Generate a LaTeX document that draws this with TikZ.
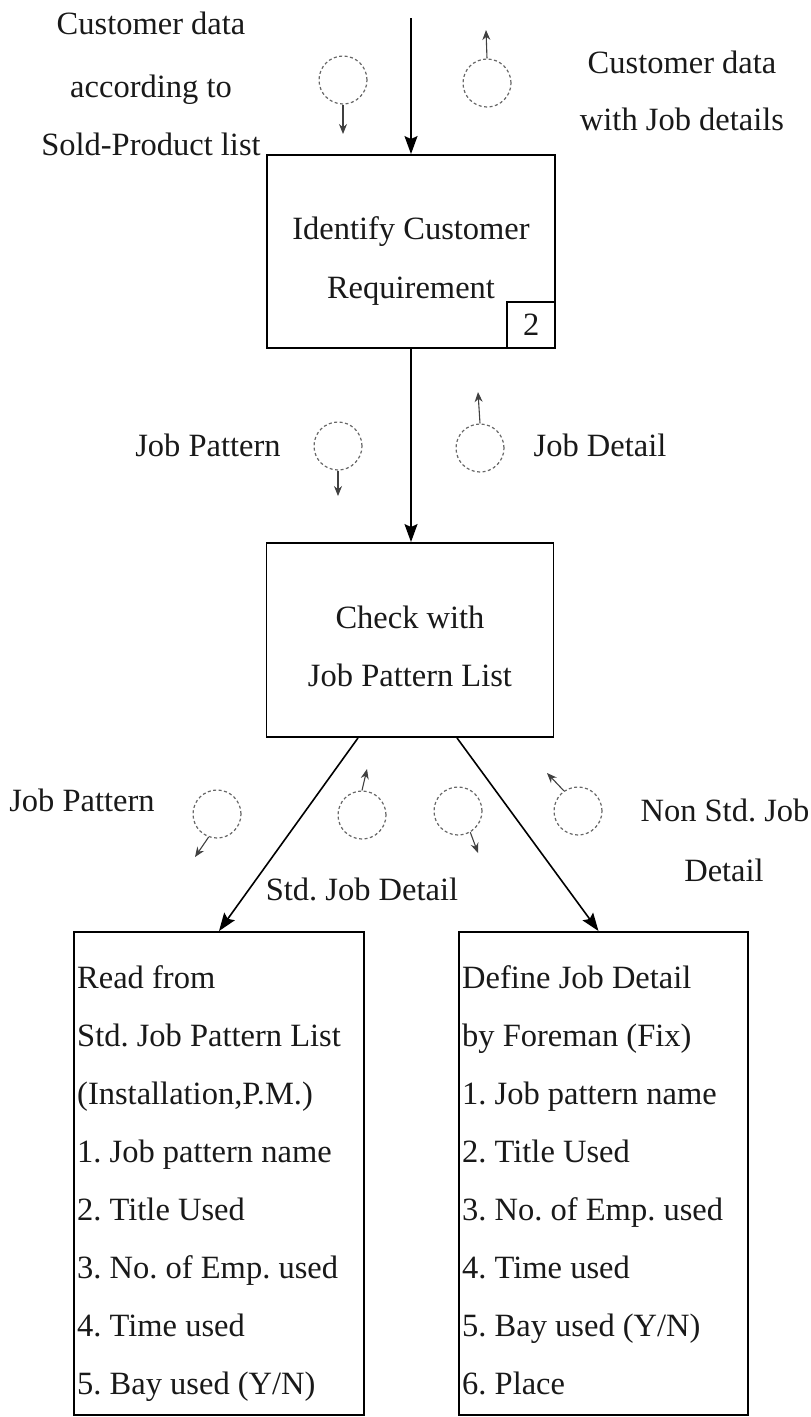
\documentclass[tikz,border=0pt]{standalone}
\usepackage{fontspec}
\setmainfont{Liberation Serif}
\usetikzlibrary{arrows.meta,calc}
\frenchspacing
\begin{document}
\begin{tikzpicture}[x=1pt,y=-1pt,
  every node/.style={font=\fontsize{32.5}{39}\selectfont\frenchspacing, inner sep=0pt, text=black!90},
  proc/.style={draw, line width=1.9pt, rectangle},
  flow/.style={line width=1.6pt, -{Stealth[length=18pt,width=13pt,inset=3pt]}},
  store/.style={circle, draw=black!60, dash pattern=on 3pt off 2.5pt, line width=1.2pt, minimum size=48pt},
  tinyarrow/.style={line width=1.1pt, draw=black!75, -{Stealth[length=10pt,width=8pt]}},
  lab/.style={anchor=base},
  item/.style={anchor=base west}]
\useasboundingbox (0,0) rectangle (811,1417);

% process boxes
\node[proc, minimum width=288pt, minimum height=193pt] (b1) at (411,251.5) {};
\node[draw, line width=1.6pt, minimum width=48pt, minimum height=46pt, anchor=south east] (n2) at (b1.south east) {2};
\node[proc, minimum width=287pt, minimum height=194pt] (b2) at (410,640) {};
\node[proc, minimum width=290pt, minimum height=483pt] (b3) at (219,1173.5) {};
\node[proc, minimum width=289pt, minimum height=483pt] (b4) at (603.5,1173.5) {};

% box texts
\node[lab] (t1a) at (411,239) {Identify Customer};
\node[lab] (t1b) at (411,298) {Requirement};
\node[lab] (t2a) at (410,628) {Check with};
\node[lab] (t2b) at (410,686) {Job Pattern List};
\foreach \s [count=\i] in {Read from, Std. Job Pattern List, {(Installation,P.M.)}, 1. Job pattern name, 2. Title Used, 3. No. of Emp. used, 4. Time used, 5. Bay used (Y/N)}
  \node[item] (la\i) at (77,{988+58.1*(\i-1)}) {\s};
\foreach \s [count=\i] in {Define Job Detail, by Foreman (Fix), 1. Job pattern name, 2. Title Used, 3. No. of Emp. used, 4. Time used, 5. Bay used (Y/N), 6. Place}
  \node[item] (lb\i) at (462,{988+58.1*(\i-1)}) {\s};

% main flows
\coordinate (in) at (411,18);
\draw[flow] (in) -- (b1.north);
\draw[flow] (b1.south) -- (b1.south |- b2.north);
\draw[flow] ([xshift=-52pt]b2.south) -- (b3.north);
\draw[flow] ([xshift=47pt]b2.south) -- ([xshift=-5pt]b4.north);

% data couples (dashed circles)
\node[store] (c1) at (343,80) {};
\node[store] (c2) at (487,83) {};
\node[store] (c3) at (338,446) {};
\node[store] (c4) at (480,448) {};
\node[store] (c5) at (217,814) {};
\node[store] (c6) at (362,815) {};
\node[store] (c7) at (458,811) {};
\node[store] (c8) at (578,811) {};

\coordinate (e1) at (343,134);
\coordinate (e2) at (486,30);
\coordinate (e3) at (338,496);
\coordinate (e4) at (478,392);
\coordinate (e5) at (195,857);
\coordinate (e6) at (367,769);
\coordinate (e7) at (478,853);
\coordinate (e8) at (547,773);
\draw[tinyarrow] (c1.south) -- (e1);
\draw[tinyarrow] (c2.north) -- (e2);
\draw[tinyarrow] (c3.south) -- (e3);
\draw[tinyarrow] (c4.north) -- (e4);
\draw[tinyarrow] (c5.-110) -- (e5);
\draw[tinyarrow] (c6.north) -- (e6);
\draw[tinyarrow] (c7.-60) -- (e7);
\draw[tinyarrow] (c8.125) -- (e8);

% labels
\node[lab] (l1) at (151,34) {Customer data};
\node[lab] (l2) at (151,97) {according to};
\node[lab] (l3) at (151,155) {Sold-Product list};
\node[lab] (l4) at (682,73) {Customer data};
\node[lab] (l5) at (682,130) {with Job details};
\node[lab] (l6) at (208,456) {Job Pattern};
\node[lab] (l7) at (600,456) {Job Detail};
\node[lab] (l8) at (82,811) {Job Pattern};
\node[lab] (l9) at (725,821) {Non Std. Job};
\node[lab] (l10) at (724,881) {Detail};
\node[lab] (l11) at (362,900) {Std. Job Detail};
\end{tikzpicture}
\end{document}
